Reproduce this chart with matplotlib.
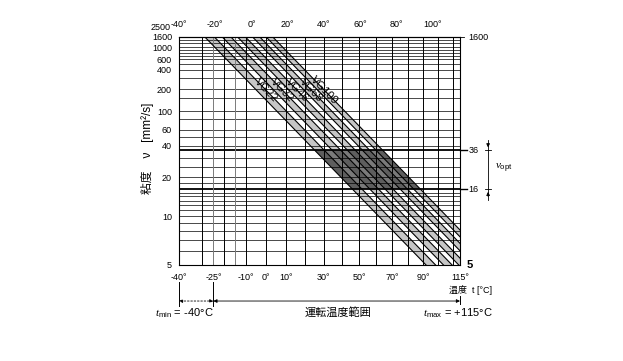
import numpy as np
import matplotlib
matplotlib.use("Agg")
import matplotlib.pyplot as plt
import matplotlib.transforms as mtransforms
from matplotlib.patches import Polygon

plt.rcParams['font.family'] = ['Liberation Sans', 'Noto Sans CJK JP', 'DejaVu Sans']
plt.rcParams['mathtext.fontset'] = 'custom'
plt.rcParams['mathtext.rm'] = 'Liberation Sans'
plt.rcParams['mathtext.it'] = 'Liberation Serif:italic'

# ---------------- data ----------------
grades = ['VG22', 'VG32', 'VG46', 'VG68', 'VG100']
v40_nominal = [22, 32, 46, 68, 100]          # mm²/s at 40 °C
band_tol = 0.10                               # ±10 % ISO band
walther_slope = 3.6                           # slope in Walther (loglog v vs log T) space
label_visc = [195, 195, 195, 195, 195]        # viscosity level at which each label sits

y_left_ticks = [1600, 1000, 600, 400, 200, 100, 60, 40, 20, 10, 5]
y_grid = [5, 6, 7, 8, 9, 10, 11, 12, 13, 14, 15, 18, 20, 25, 30, 40, 50, 60, 80,
          100, 150, 200, 300, 400, 500, 600, 700, 800, 900, 1000, 1200, 1400, 1600]
x_bottom_ticks = [-40, -25, -10, 0, 10, 30, 50, 70, 90, 115]
x_top_ticks = [-40, -20, 0, 20, 40, 60, 80, 100]
x_grid_dark = [-30, -20, -10, 0, 10, 20, 30, 40, 50, 60, 70, 80, 90, 100, 110]
x_grid_light = [-25, -15]
v_opt = [16, 36]
t_min, t_low, t_max = -40, -25, 115
v_min, v_max, v_extra = 5, 1600, 2500


# ---------------- scales ----------------
def t_fwd(t):
    return np.log10(np.asarray(t, float) + 273.15)


def t_inv(u):
    return 10 ** np.asarray(u, float) - 273.15


def v_fwd(v):
    v = np.asarray(v, float)
    with np.errstate(all='ignore'):
        return np.log10(np.log10(np.maximum(v + 0.7, 1.0000001)))


def v_inv(w):
    with np.errstate(all='ignore'):
        return 10 ** (10 ** np.asarray(w, float)) - 0.7


logT40 = np.log10(40 + 273.15)


def line_T(v0, v):
    return 10 ** (logT40 + (v_fwd(v0) - v_fwd(v)) / walther_slope) - 273.15


fig = plt.figure(figsize=(6.23, 3.61), dpi=100)
ax = fig.add_axes([179 / 623, 1 - 265 / 361, 281 / 623, 228 / 361])
ax.set_xscale('function', functions=(t_fwd, t_inv))
ax.set_yscale('function', functions=(v_fwd, v_inv))
ax.set_xlim(t_min, t_max)
ax.set_ylim(v_min, v_max)

# grid
for v in y_grid:
    ax.axhline(v, color='black', lw=0.5, zorder=2)
for v in v_opt:
    ax.axhline(v, color='black', lw=1.3, zorder=2)
for t in x_grid_dark:
    ax.axvline(t, color='black', lw=0.7, zorder=2)
for t in x_grid_light:
    ax.axvline(t, color='#7a7a7a', lw=0.7, zorder=2)

v_hi, v_lo = 3000.0, 3.0
# bands
for g, v0 in zip(grades, v40_nominal):
    vl, vu = v0 * (1 - band_tol), v0 * (1 + band_tol)
    pts = [(line_T(vl, v_hi), v_hi), (line_T(vl, v_lo), v_lo),
           (line_T(vu, v_lo), v_lo), (line_T(vu, v_hi), v_hi)]
    ax.add_patch(Polygon(pts, closed=True, facecolor='#c6c6c6', edgecolor='none', zorder=1))
    for vv in (vl, vu):
        ax.plot([line_T(vv, v_hi), line_T(vv, v_lo)], [v_hi, v_lo], color='black', lw=0.8, zorder=3)

# optimum zone overlay
vl0 = v40_nominal[0] * (1 - band_tol)
vu1 = v40_nominal[-1] * (1 + band_tol)
opt_pts = [(line_T(vl0, v_opt[1]), v_opt[1]), (line_T(vl0, v_opt[0]), v_opt[0]),
           (line_T(vu1, v_opt[0]), v_opt[0]), (line_T(vu1, v_opt[1]), v_opt[1])]
ax.add_patch(Polygon(opt_pts, closed=True, facecolor='black', alpha=0.52, edgecolor='none', zorder=1.5))

# labels on bands (on the upper edge line of each band)
for g, v0, vlab in zip(grades, v40_nominal, label_visc):
    vu = v0 * (1 + band_tol)
    tA = line_T(vu, vlab)
    p1 = ax.transData.transform((line_T(v0, 1000), 1000))
    p2 = ax.transData.transform((line_T(v0, 20), 20))
    ang = np.degrees(np.arctan2(p2[1] - p1[1], p2[0] - p1[0]))
    ax.text(tA, vlab, g, rotation=ang, rotation_mode='anchor', ha='center', va='center',
            fontsize=8, zorder=4)

# spines / ticks
for s in ax.spines.values():
    s.set_linewidth(0.8)
ax.set_yticks(y_left_ticks)
ax.set_yticklabels([str(v) for v in y_left_ticks])
ax.minorticks_off()
ax.set_xticks(x_bottom_ticks)
ax.set_xticklabels([f'{t}°' for t in x_bottom_ticks])
ax.tick_params(axis='both', length=0, labelsize=6.5)
ax.tick_params(axis='y', pad=5)
ax.tick_params(axis='x', pad=5.5)
sec = ax.secondary_xaxis('top')
sec.set_xticks(x_top_ticks)
sec.set_xticklabels([f'{t}°' for t in x_top_ticks])
sec.tick_params(length=0, labelsize=6.5, pad=5.5)

yb = mtransforms.blended_transform_factory(ax.transAxes, ax.transData)
xb = mtransforms.blended_transform_factory(ax.transData, ax.transAxes)

ax.text(-0.03, v_extra, str(v_extra), transform=yb, ha='right', va='center', fontsize=6.5, clip_on=False)

# right side labels
ax.plot([1.0, 1.015], [v_max, v_max], transform=yb, color='black', lw=0.6, clip_on=False)
ax.text(1.03, v_max, str(v_max), transform=yb, ha='left', va='center', fontsize=6.5)
for v in v_opt:
    ax.plot([1.0, 1.025], [v, v], transform=yb, color='black', lw=1.0, clip_on=False)
    ax.text(1.03, v, str(v), transform=yb, ha='left', va='center', fontsize=6.5)
ax.text(1.025, v_min, str(v_min), transform=yb, ha='left', va='center', fontsize=8, fontweight='bold')

xa = 1.1
ax.plot([xa, xa], [46, 13.1], transform=yb, color='black', lw=0.6, clip_on=False)
for v in v_opt:
    ax.plot([xa - 0.012, xa + 0.012], [v, v], transform=yb, color='black', lw=0.6, clip_on=False)
ax.annotate('', xy=(xa, v_opt[1]), xytext=(xa, 45), xycoords=yb, textcoords=yb,
            arrowprops=dict(arrowstyle='-|>', color='black', lw=0.6, mutation_scale=5))
ax.annotate('', xy=(xa, v_opt[0]), xytext=(xa, 13.3), xycoords=yb, textcoords=yb,
            arrowprops=dict(arrowstyle='-|>', color='black', lw=0.6, mutation_scale=5))
ax.text(1.125, 24, r'$\nu_{\mathrm{opt}}$', transform=yb, ha='left', va='center', fontsize=8)

# axis titles
ax.text(0.961, -0.11, '温度  t [°C]', transform=ax.transAxes, ha='left', va='center', fontsize=6.5)
fig.text(148 / 623, 1 - 148 / 361, '粘度    ν   [mm²/s]', rotation=90, ha='center', va='center', fontsize=8.5)

# operating range dimension
yd = -0.158
ax.plot([t_min, t_min], [-0.075, -0.18], transform=xb, color='black', lw=0.7, clip_on=False)
ax.plot([t_low, t_low], [-0.075, -0.18], transform=xb, color='black', lw=0.7, clip_on=False)
ax.plot([t_max, t_max], [-0.135, -0.17], transform=xb, color='black', lw=0.7, clip_on=False)
ax.annotate('', xy=(t_min, yd), xytext=(t_low, yd), xycoords=xb, textcoords=xb,
            arrowprops=dict(arrowstyle='<|-|>', color='black', lw=0.6, ls=(0, (2, 2)), mutation_scale=5,
                            shrinkA=0, shrinkB=0))
ax.annotate('', xy=(t_low, yd), xytext=(t_max, yd), xycoords=xb, textcoords=xb,
            arrowprops=dict(arrowstyle='<|-|>', color='black', lw=0.6, mutation_scale=5,
                            shrinkA=0, shrinkB=0))
ax.text(-0.085, -0.21, r'$t_{\mathrm{min}}$' + ' = -40°C', transform=ax.transAxes, ha='left', va='center', fontsize=8)
ax.text(0.87, -0.21, r'$t_{\mathrm{max}}$' + ' = +115°C', transform=ax.transAxes, ha='left', va='center', fontsize=8)
ax.text(0.565, -0.21, '運転温度範囲', transform=ax.transAxes, ha='center', va='center', fontsize=8)

fig.savefig('out.png', dpi=100)
